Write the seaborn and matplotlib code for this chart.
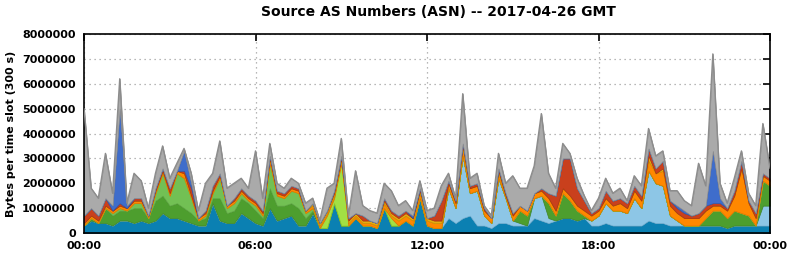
import numpy as np
import pandas as pd
import matplotlib
matplotlib.use("Agg")
import matplotlib.pyplot as plt
import seaborn as sns

# time axis: 15-minute steps over the day (hours)
hours = [i * 0.25 for i in range(97)]

# series values in units of 100 000 bytes per 300 s slot (bottom -> top)
teal = [3,5,4,4,3,5,5,4,5,4, 5,8,6,6,5,4,3,3,12,5, 4,4,8,6,4,3,10,5,6,7,
        3,3,8,2,2,12,3,3,6,3, 3,2,10,3,3,5,3,14,3,2, 2,6,4,6,7,3,3,2,4,4,
        3,3,3,6,5,4,5,6,6,5, 6,3,3,4,3,3,3,3,3,5, 4,4,3,3,3,3,3,3,3,3,
        2,3,3,3,3,3,3]
light_blue = [0,0,0,0,0,0,0,0,0,0, 0,0,0,0,0,0,0,0,0,0, 0,0,0,0,0,0,0,0,0,0,
              0,0,0,0,0,0,0,0,0,0, 0,0,0,0,0,0,0,0,0,0, 0,12,6,25,9,14,4,2,18,10,
              2,1,0,8,10,2,0,0,0,0, 0,2,4,8,6,6,5,11,7,20, 16,15,4,2,0,0,0,0,0,0,
              0,0,0,0,0,8,8]
dark_green = [0,1,0,6,4,4,4,6,5,2, 8,7,5,6,5,4,2,3,2,9, 4,5,6,6,5,3,8,6,5,5,
              7,3,1,0,0,0,0,0,0,0, 0,0,0,0,0,0,0,0,0,0, 0,0,0,0,0,0,0,0,0,0,
              0,5,4,0,0,6,2,10,7,4, 1,0,0,0,0,0,0,0,0,0, 0,0,0,0,0,0,0,3,6,6,
              4,6,5,4,0,10,8]
mid_green = [0,0,0,0,1,1,0,2,2,0, 3,9,4,12,12,6,0,1,2,8, 2,3,2,1,2,1,10,4,3,5,
             6,2,1,0,0,0,0,0,0,0, 0,0,0,0,0,0,0,0,0,0, 0,0,0,0,0,0,0,0,0,0,
             0,0,0,0,0,0,0,0,0,0, 0,0,0,0,0,0,0,0,0,0, 0,0,0,0,0,0,0,0,0,0,
             0,0,0,0,0,0,0]
lime = [0,0,0,0,0,0,0,0,0,0, 0,0,0,0,0,0,0,0,0,0, 0,0,0,0,0,0,0,0,0,0,
        0,0,0,0,5,2,25,0,0,0, 0,0,0,3,0,0,0,0,0,0, 0,0,0,0,0,0,0,0,0,0,
        0,0,0,0,0,0,0,0,0,0, 0,0,0,0,0,0,0,0,0,0, 0,0,0,0,0,0,0,0,0,0,
        0,0,0,0,0,0,0]
orange = [1,1,1,1,1,1,1,1,1,1, 1,1,1,1,2,1,1,1,1,1, 1,1,1,1,1,1,2,1,1,1,
          1,1,1,1,1,1,1,1,1,1, 1,1,2,1,2,2,2,2,2,2, 2,2,2,3,2,2,2,2,2,1,
          2,2,2,2,2,2,2,2,2,2, 2,2,2,2,2,3,2,3,3,4, 4,6,4,3,3,3,3,3,2,2,
          3,6,18,5,3,2,2]
gold = [0,0,0,0,0,0,0,0,0,0, 0,0,0,0,0,0,0,0,0,0, 0,0,0,0,0,0,0,0,0,0,
        0,0,1,1,1,1,1,1,1,1, 1,1,1,1,1,1,1,1,1,1, 1,0,0,1,0,0,0,0,1,0,
        0,0,0,0,0,0,0,0,0,0, 0,0,0,0,0,0,0,0,0,2, 0,1,0,0,0,0,0,0,0,0,
        0,0,0,0,0,0,0]
red = [3,3,2,3,0,1,0,1,1,0, 1,1,2,0,1,3,0,1,2,1, 0,1,1,1,1,1,1,1,1,1,
       1,0,0,0,0,1,1,1,0,2, 0,0,1,1,1,1,0,1,0,2, 8,1,1,1,1,1,1,0,1,1,
       1,0,0,0,1,2,6,12,15,7, 4,1,1,3,2,2,2,2,2,3, 2,3,2,2,2,1,2,2,1,1,
       1,2,3,1,2,1,1]
blue = [0,0,0,0,2,38,1,0,0,0, 0,0,0,0,8,2,0,0,0,0, 0,0,0,0,0,0,0,0,0,0,
        0,0,0,0,0,0,0,0,0,0, 0,0,0,0,0,0,1,0,0,0, 0,0,0,0,0,0,0,0,0,0,
        0,0,0,0,0,0,0,0,0,0, 0,0,0,0,0,0,0,0,0,0, 0,0,0,1,1,0,0,0,21,2,
        0,0,0,0,0,0,0]
other = [43,8,7,18,5,12,1,10,7,3, 6,9,4,3,1,4,3,11,5,13, 7,6,4,3,20,5,5,3,2,3,
         2,3,2,1,9,3,7,1,17,4, 4,4,6,8,4,4,2,3,3,3, 6,3,1,20,3,4,1,1,6,4,
         15,7,9,11,30,8,3,6,2,4, 2,1,4,5,3,4,1,4,4,8, 5,4,4,6,4,4,20,8,39,6,
         2,5,4,3,3,20,4]

series_names = ["teal", "light_blue", "dark_green", "mid_green", "lime",
                "orange", "gold", "red", "blue", "other"]
series_vals = [teal, light_blue, dark_green, mid_green, lime,
               orange, gold, red, blue, other]
colors = ["#0b80b2", "#8dc6e6", "#4d9e2e", "#72c054", "#a2e044",
          "#ff8800", "#e6ab10", "#c9401d", "#3f6dcb", "#aaaaaa"]
edges = ["#086a94", "#74b0d2", "#3e8424", "#5ea643", "#86c530",
         "#e07000", "#c89200", "#a83214", "#2f57a8", "#8c8c8c"]

df = pd.DataFrame({n: np.array(v, dtype=float) * 1e5 for n, v in zip(series_names, series_vals)})
df["hours"] = hours
total = df[series_names].sum(axis=1)

sns.set_style("white")
plt.rcParams["font.family"] = ["DejaVu Sans"]
plt.rcParams["text.color"] = "black"
plt.rcParams["axes.labelcolor"] = "black"

fig = plt.figure(figsize=(7.92, 2.59), dpi=100)
ax = fig.add_axes([84 / 792, 26 / 259, 686 / 792, 199 / 259])

polys = ax.stackplot(df["hours"], [df[n] for n in series_names], colors=colors, zorder=2)
for p, ec in zip(polys, edges):
    p.set_edgecolor(ec)
    p.set_linewidth(0.5)

sns.lineplot(x=df["hours"], y=total, ax=ax, color="#8c8c8c", linewidth=1.0, zorder=3)

ax.set_xlim(0, 24)
ax.set_ylim(0, 8e6)
ax.set_xticks([0, 6, 12, 18, 24])
ax.set_xticklabels(["00:00", "06:00", "12:00", "18:00", "00:00"])
ax.set_yticks(np.arange(0, 8e6 + 1, 1e6))
ax.set_yticklabels([f"{int(v)}" for v in np.arange(0, 8e6 + 1, 1e6)])
ax.set_axisbelow(True)
ax.grid(True, color="#a0a0a0", linestyle=(0, (1, 3)), linewidth=0.9)
ax.tick_params(axis="both", which="major", direction="in", length=5, width=1.2,
               top=True, right=True, labelsize=8, pad=6, colors="black",
               labelcolor="black")
for lab in ax.get_xticklabels() + ax.get_yticklabels():
    lab.set_fontweight("bold")
for s in ax.spines.values():
    s.set_color("black")
    s.set_linewidth(1.2)

ax.set_xlabel("")
ax.set_ylabel("Bytes per time slot (300 s)", fontsize=8, fontweight="bold",
              labelpad=4, color="black")
fig.text(0.554, 0.955, "Source AS Numbers (ASN) -- 2017-04-26 GMT",
         ha="center", va="center", fontsize=10, fontweight="bold", color="black")

fig.savefig("out.png", dpi=100)
